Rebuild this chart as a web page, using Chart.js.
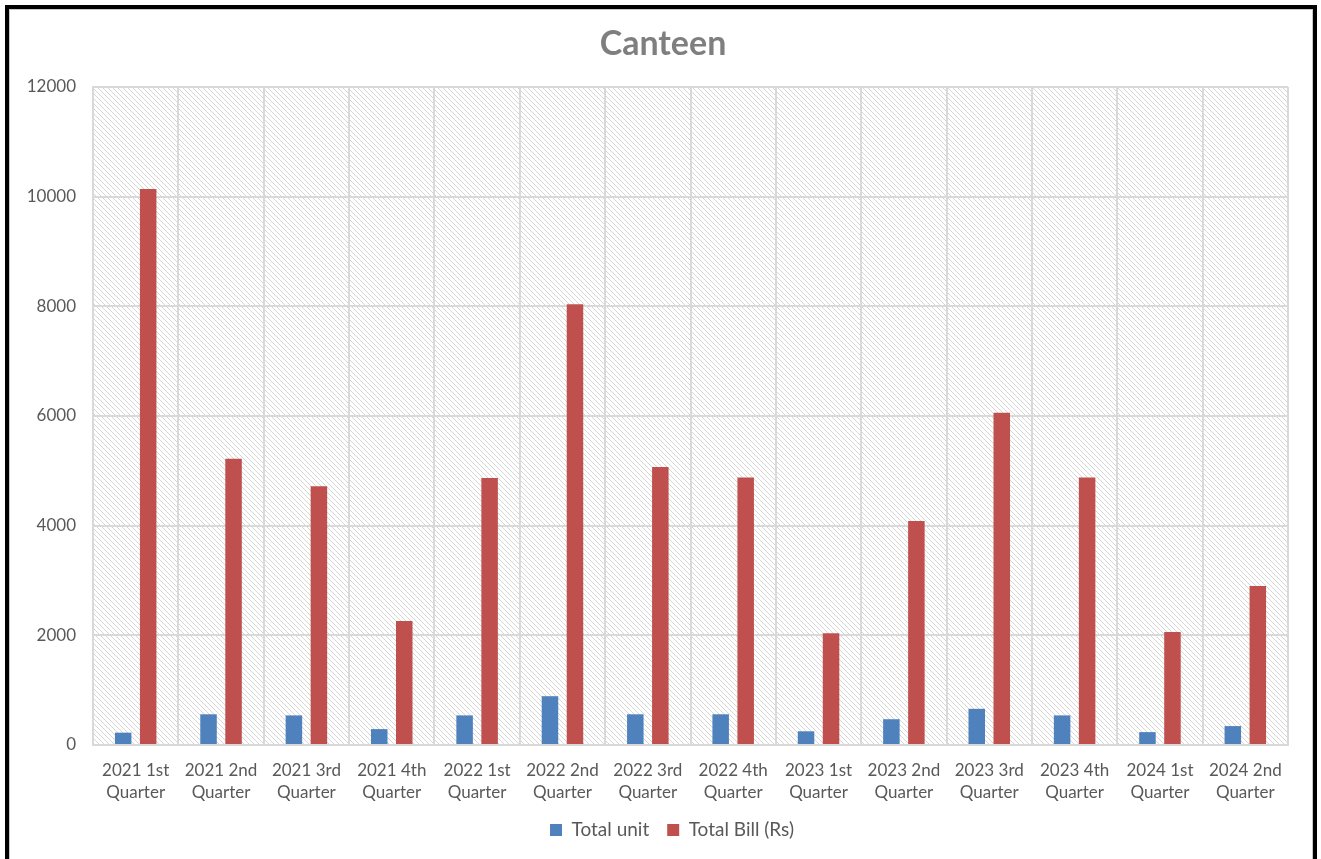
<!DOCTYPE html>
<html>
<head>
<meta charset="utf-8">
<script src="https://cdn.jsdelivr.net/npm/chart.js@4.4.1/dist/chart.umd.min.js"></script>
<style>
  html, body { margin: 0; padding: 0; background: #fff; overflow: hidden; }
  #wrap { position: relative; width: 1321px; height: 859px; }
  #frame {
    position: absolute; left: 5px; top: 5px; width: 1304px; height: 900px;
    border: 4px solid #000; box-shadow: inset 0 0 0 1px #c8c8c8; pointer-events: none;
  }
  canvas { position: absolute; left: 0; top: 0; }
</style>
</head>
<body>
<div id="wrap">
  <canvas id="c" width="1321" height="859"></canvas>
  <div id="frame"></div>
</div>
<script>
// Quarterly canteen figures
const quarters = [
  ['2021 1st', 'Quarter'], ['2021 2nd', 'Quarter'], ['2021 3rd', 'Quarter'], ['2021 4th', 'Quarter'],
  ['2022 1st', 'Quarter'], ['2022 2nd', 'Quarter'], ['2022 3rd', 'Quarter'], ['2022 4th', 'Quarter'],
  ['2023 1st', 'Quarter'], ['2023 2nd', 'Quarter'], ['2023 3rd', 'Quarter'], ['2023 4th', 'Quarter'],
  ['2024 1st', 'Quarter'], ['2024 2nd', 'Quarter']
];
const totalUnit = [225, 560, 540, 290, 540, 890, 560, 560, 250, 470, 660, 540, 235, 345];
const totalBill = [10140, 5220, 4720, 2260, 4870, 8040, 5070, 4880, 2040, 4085, 6060, 4880, 2060, 2900];
const yTicks = [0, 2000, 4000, 6000, 8000, 10000, 12000];

const FONT = 'Lato, "Open Sans", sans-serif';
const GRID = '#d9d9d9';

// Diagonal hatch used as the plot-area fill
function makeHatch(ctx) {
  const t = document.createElement('canvas');
  t.width = 5; t.height = 5;
  const g = t.getContext('2d');
  g.fillStyle = '#ffffff';
  g.fillRect(0, 0, 5, 5);
  g.strokeStyle = '#d6d6d6';
  g.lineWidth = 1;
  g.beginPath();
  g.moveTo(-1, -1); g.lineTo(6, 6);
  g.moveTo(-1, 4); g.lineTo(1, 6);
  g.moveTo(4, -1); g.lineTo(6, 1);
  g.stroke();
  return ctx.createPattern(t, 'repeat');
}

const hatchBackground = {
  id: 'hatchBackground',
  beforeDraw(chart) {
    const { ctx, chartArea: a } = chart;
    ctx.save();
    ctx.fillStyle = makeHatch(ctx);
    ctx.fillRect(a.left, a.top, a.right - a.left, a.bottom - a.top);
    ctx.restore();
  }
};

// Centre the title and legend a little left of the plot centre,
// and lift the legend slightly towards the axis labels
const blockOffsets = {
  id: 'blockOffsets',
  afterLayout(chart) {
    if (chart.titleBlock) { chart.titleBlock.left = 38; chart.titleBlock.right = 1288; }
    if (chart.legend) {
      const lg = chart.legend;
      lg.left = 56; lg.right = 1288;
      const dy = 802.5 - lg.top;
      lg.top += dy; lg.bottom += dy;
    }
  }
};

const ctx = document.getElementById('c').getContext('2d');
new Chart(ctx, {
  type: 'bar',
  data: {
    labels: quarters,
    datasets: [
      { label: 'Total unit', data: totalUnit, backgroundColor: '#4f81bd',
        categoryPercentage: 0.586, barPercentage: 0.66 },
      { label: 'Total Bill (Rs)', data: totalBill, backgroundColor: '#c0504d',
        categoryPercentage: 0.586, barPercentage: 0.66 }
    ]
  },
  options: {
    responsive: false,
    animation: false,
    layout: { padding: { left: 0, right: 33, top: 0, bottom: 7 } },
    plugins: {
      title: {
        display: true,
        text: 'Canteen',
        color: '#7f7f7f',
        font: { family: FONT, size: 34, weight: 'bold', lineHeight: 1.2 },
        padding: { top: 23.6, bottom: 22.6 }
      },
      legend: {
        position: 'bottom',
        labels: {
          color: '#595959',
          font: { family: FONT, size: 19 },
          boxWidth: 12, boxHeight: 12,
          padding: 18
        }
      },
      tooltip: { enabled: false }
    },
    scales: {
      x: {
        grid: { color: GRID, lineWidth: 2, drawTicks: false, offset: true },
        border: { color: GRID, width: 2 },
        ticks: {
          color: '#595959', padding: 14, maxRotation: 0, autoSkip: false,
          font: { family: FONT, size: 17, lineHeight: 1.3 }
        },
        afterFit(s) { s.height = 60; }
      },
      y: {
        min: 0, max: 12000,
        afterBuildTicks(s) { s.ticks = yTicks.map(v => ({ value: v })); },
        grid: { color: GRID, lineWidth: 2, drawTicks: false },
        border: { color: GRID, width: 2 },
        ticks: {
          color: '#595959', padding: 17,
          font: { family: FONT, size: 17 },
          callback: v => String(v)
        },
        afterFit(s) { s.width = 93; }
      }
    }
  },
  plugins: [hatchBackground, blockOffsets]
});
</script>
</body>
</html>
